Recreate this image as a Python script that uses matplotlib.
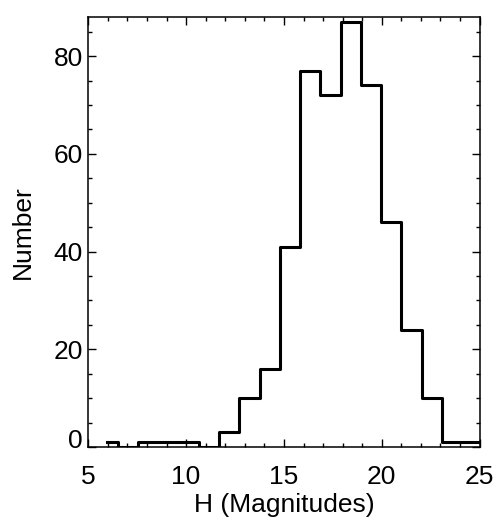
import numpy as np
import matplotlib
matplotlib.use("Agg")
import matplotlib.pyplot as plt
from matplotlib.ticker import MultipleLocator
import matplotlib.transforms as mtransforms

# ===========================
# data
# ===========================

# bin centres in H magnitudes (IDL psym=10 style histogram)
H_CENTERS = [5.98, 7.02, 8.05, 9.09, 10.12, 11.16, 12.20, 13.23, 14.27,
             15.30, 16.34, 17.38, 18.41, 19.45, 20.48, 21.52, 22.56,
             23.59, 24.63, 25.67]

COUNTS = [1, 0, 1, 1, 1, 0, 3, 10, 16,
          41, 77, 72, 87, 74, 46, 24, 10,
          1, 1, 0]

X_TICKS = [5, 10, 15, 20, 25]
Y_TICKS = [0, 20, 40, 60, 80]

# ===========================
# plot
# ===========================

plt.rcParams["font.family"] = ["Liberation Sans", "DejaVu Sans"]

fig = plt.figure(figsize=(4.96, 5.22), dpi=100)
ax = fig.add_axes([0.178, 0.1437, 0.789, 0.8237])

ax.step(H_CENTERS, COUNTS, where="mid", color="black", linewidth=2.2,
        zorder=3)

ax.set_xlim(5, 25)
ax.set_ylim(0, 88)

ax.set_xticks(X_TICKS)
ax.set_yticks(Y_TICKS)
ax.xaxis.set_minor_locator(MultipleLocator(1))
ax.yaxis.set_minor_locator(MultipleLocator(5))

ax.tick_params(which="both", direction="in", top=True, right=True,
               width=1.0, colors="black")
ax.tick_params(which="major", length=5.8)
ax.tick_params(which="minor", length=2.9)
ax.tick_params(axis="x", which="major", labelsize=19, pad=13)
ax.tick_params(axis="y", which="major", labelsize=19, pad=4)

for sp in ax.spines.values():
    sp.set_linewidth(1.1)

ax.set_xlabel("H (Magnitudes)", fontsize=19, labelpad=3)
ax.set_ylabel("Number", fontsize=19, labelpad=13)

# the "0" label sits a little higher in the original
fig.canvas.draw()
lab0 = ax.get_yticklabels()[0]
lab0.set_transform(lab0.get_transform() +
                   mtransforms.ScaledTranslation(0, 6 / 72, fig.dpi_scale_trans))

fig.savefig("out.png", dpi=100)
